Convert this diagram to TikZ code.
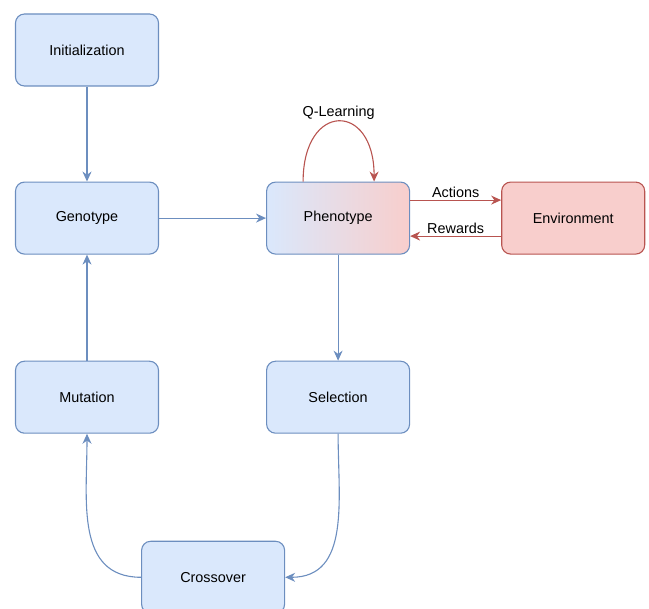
\documentclass[tikz,border=0pt]{standalone}
\usepackage{fontspec}
\setmainfont{Liberation Sans}
\usepackage{xcolor}
\usepackage{tikz}
\usetikzlibrary{positioning,arrows.meta}

\definecolor{blueFill}{HTML}{DAE8FC}
\definecolor{blueLine}{HTML}{6C8EBF}
\definecolor{redFill}{HTML}{F8CECC}
\definecolor{redLine}{HTML}{B85450}

\begin{document}
\begin{tikzpicture}[
    block/.style={rectangle, rounded corners=9pt, draw=blueLine, fill=blueFill, line width=1.1pt,
                  minimum width=143pt, minimum height=72pt, align=center, inner sep=0pt,
                  font=\fontsize{14.4}{17}\selectfont},
    redblock/.style={block, draw=redLine, fill=redFill},
    mixblock/.style={block, fill=none, left color=blueFill, right color=redFill},
    arrow/.style={-{Stealth[length=10pt,width=9pt]}, line width=1.1pt, draw=blueLine},
    redarrow/.style={arrow, draw=redLine},
    lbl/.style={font=\fontsize{14.4}{17}\selectfont, inner sep=2pt},
    node distance=96pt
]
\useasboundingbox (0,0) rectangle (649pt,-609pt);

% Top row
\node[block] (init) at (87pt,-50pt) {Initialization};

% Middle row
\node[block, below=95pt of init] (genotype) {Genotype};
\node[mixblock, right=107pt of genotype] (phenotype) {Phenotype};
\node[redblock, right=91pt of phenotype] (environment) {Environment};

% Lower rows
\node[block, below=106pt of genotype] (mutation) {Mutation};
\node[block, below=106pt of phenotype] (selection) {Selection};
\node[block, below right=107pt and -18pt of mutation] (crossover) {Crossover};

% Evolution cycle
\draw[arrow] (init.south) -- (genotype.north);
\draw[arrow] (genotype.east) -- (phenotype.west);
\draw[arrow] (phenotype.south) -- (selection.north);
\draw[arrow] (selection.south) to[out=-90, in=0, looseness=1.1] (crossover.east);
\draw[arrow] (crossover.west) to[out=180, in=-90, looseness=1.1] (mutation.south);
\draw[arrow] (mutation.north) -- (genotype.south);

% Learning loop
\draw[redarrow] ([xshift=-35pt]phenotype.north) .. controls +(0,80pt) and +(0,80pt) ..
    node[lbl, above=0pt] {Q-Learning} ([xshift=36pt]phenotype.north);
\draw[redarrow] ([yshift=18pt]phenotype.east) -- node[lbl, above] {Actions} ([yshift=18pt]environment.west);
\draw[redarrow] ([yshift=-18pt]environment.west) -- node[lbl, above] {Rewards} ([yshift=-18pt]phenotype.east);

\end{tikzpicture}
\end{document}
